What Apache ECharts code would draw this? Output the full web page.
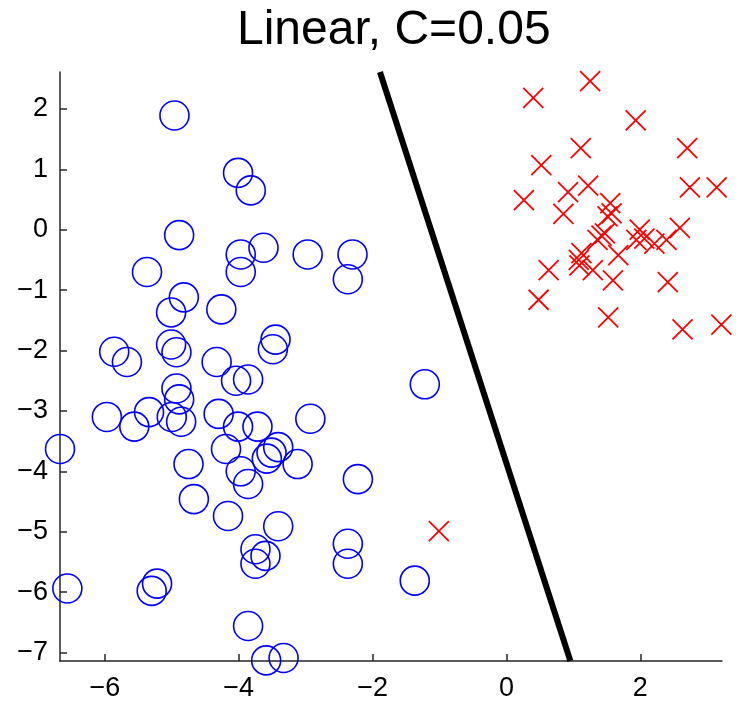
<!DOCTYPE html>
<html>
<head>
<meta charset="utf-8">
<script src="https://cdn.jsdelivr.net/npm/echarts@6/dist/echarts.min.js"></script>
<style>
html,body{margin:0;padding:0;background:#fff;}
#chart{width:739px;height:705px;}
</style>
</head>
<body>
<div id="chart"></div>
<script>
// Class -1 (blue circles)
const negPoints = [
  [-4.96,1.89],[-4.01,0.94],[-3.82,0.65],[-4.89,-0.09],[-3.97,-0.41],[-3.63,-0.30],
  [-2.97,-0.41],[-2.30,-0.41],[-5.37,-0.70],[-3.97,-0.70],[-2.37,-0.82],[-4.82,-1.12],
  [-5.01,-1.37],[-4.26,-1.32],[-5.01,-1.90],[-4.93,-2.03],[-5.86,-2.02],[-5.67,-2.19],
  [-4.33,-2.19],[-3.45,-1.82],[-3.49,-1.98],[-4.04,-2.50],[-3.86,-2.48],[-4.93,-2.63],
  [-4.89,-2.81],[-5.97,-3.10],[-5.56,-3.26],[-5.34,-3.02],[-5.00,-3.10],[-4.86,-3.18],
  [-4.30,-3.05],[-4.01,-3.26],[-3.72,-3.26],[-2.93,-3.13],[-6.67,-3.63],[-4.19,-3.63],
  [-3.41,-3.60],[-3.51,-3.69],[-3.58,-3.79],[-3.12,-3.88],[-4.75,-3.88],[-3.97,-4.00],
  [-3.86,-4.21],[-2.22,-4.13],[-4.67,-4.46],[-4.16,-4.74],[-3.41,-4.91],[-3.75,-5.29],
  [-3.60,-5.40],[-3.75,-5.53],[-2.37,-5.20],[-2.37,-5.53],[-6.56,-5.94],[-5.22,-5.86],
  [-5.30,-5.98],[-3.86,-6.56],[-3.59,-7.13],[-3.33,-7.09],[-1.22,-2.56],[-1.37,-5.81]
];
// Class +1 (red crosses)
const posPoints = [
  [0.40,2.18],[1.25,2.46],[1.93,1.81],[1.11,1.35],[2.70,1.35],[0.52,1.07],[1.22,0.73],
  [0.92,0.62],[2.74,0.70],[3.14,0.70],[0.26,0.49],[0.85,0.26],[1.55,0.44],[1.57,0.27],
  [1.51,0.22],[1.42,-0.10],[1.47,-0.06],[1.36,-0.17],[1.99,0.00],[1.94,-0.17],[2.06,-0.15],
  [2.39,-0.17],[2.59,0.03],[2.21,-0.23],[1.67,-0.42],[1.12,-0.39],[1.08,-0.50],[1.09,-0.59],
  [1.29,-0.67],[0.63,-0.67],[1.59,-0.84],[2.41,-0.87],[0.48,-1.16],[1.52,-1.45],[2.63,-1.65],
  [3.21,-1.57],[-1.01,-4.99]
];
// Decision boundary
const boundary = [[-1.89,2.61],[0.955,-7.14]];
const xTicks = [-6,-4,-2,0,2];
const yTicks = [-7,-6,-5,-4,-3,-2,-1,0,1,2];
const titleText = 'Linear, C=0.05';

const FONT = '"Liberation Sans", Arial, Helvetica, sans-serif';
const fmt = v => String(v).replace('-', '\u2212');

const chart = echarts.init(document.getElementById('chart'), null, {renderer:'canvas'});
chart.setOption({
  animation: false,
  backgroundColor: '#ffffff',
  title: {
    text: titleText,
    left: 232, top: 2,
    textStyle: {fontFamily: FONT, fontSize: 48, fontWeight: 'normal', color: '#000'}
  },
  grid: {left: 60, right: 17, top: 72, bottom: 44, outerBoundsMode: 'none'},
  xAxis: {
    type: 'value', min: -6.67, max: 3.22,
    axisLine: {show: true, onZero: false, lineStyle: {color: '#262626', width: 1.5}},
    axisTick: {show: true, inside: true, length: 7, customValues: xTicks, lineStyle: {color: '#262626', width: 1.5}},
    axisLabel: {customValues: xTicks, formatter: fmt, fontFamily: FONT, fontSize: 27, color: '#000', margin: 14},
    splitLine: {show: false}
  },
  yAxis: {
    type: 'value', min: -7.14, max: 2.61,
    axisLine: {show: true, onZero: false, lineStyle: {color: '#262626', width: 1.5}},
    axisTick: {show: true, inside: true, length: 7, customValues: yTicks, lineStyle: {color: '#262626', width: 1.5}},
    axisLabel: {customValues: yTicks, formatter: fmt, fontFamily: FONT, fontSize: 27, color: '#000', margin: 12},
    splitLine: {show: false}
  },
  series: [
    {
      type: 'scatter', data: negPoints, symbol: 'circle', symbolSize: 29, silent: true,
      itemStyle: {color: 'rgba(0,0,0,0)', borderColor: '#0000ff', borderWidth: 1.6, opacity: 1}
    },
    {
      type: 'scatter', data: posPoints, symbol: 'path://M0 0L10 10M10 0L0 10', symbolSize: 20, silent: true,
      itemStyle: {color: 'none', borderColor: '#ff0000', borderWidth: 1.8, opacity: 1}
    },
    {
      type: 'line', data: boundary, symbol: 'none', silent: true,
      lineStyle: {color: '#000', width: 6}
    }
  ]
});
</script>
</body>
</html>
